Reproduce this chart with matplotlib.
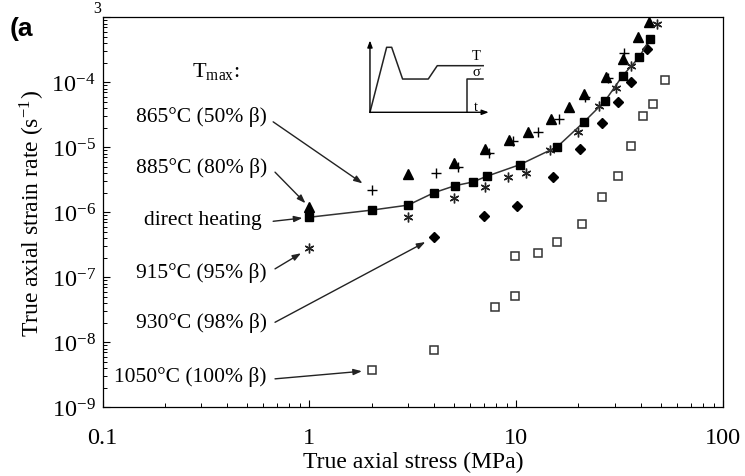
import matplotlib
matplotlib.use("Agg")
import matplotlib.pyplot as plt
from matplotlib.ticker import LogLocator, FixedLocator, NullFormatter

plt.rcParams["font.family"] = ["Liberation Serif", "DejaVu Serif"]
plt.rcParams["mathtext.fontset"] = "stix"

# direct heating (filled squares, joined by a line)
direct_x = [1.0, 2.0, 3.0, 4.0, 5.06, 6.15, 7.2, 10.4, 15.8, 21.2, 26.8, 32.7, 39.3, 44.2]
direct_y = [8.4e-7, 1.08e-6, 1.29e-6, 2.0e-6, 2.57e-6, 2.92e-6, 3.58e-6, 5.4e-6,
            1.02e-5, 2.43e-5, 5.1e-5, 1.26e-4, 2.43e-4, 4.6e-4]
# 865 C (50% beta), plus
t865_x = [2.0, 4.1, 5.25, 7.4, 9.7, 12.8, 16.1, 21.5, 27.7, 33.3]
t865_y = [2.23e-6, 4.0e-6, 4.9e-6, 8.2e-6, 1.26e-5, 1.74e-5, 2.72e-5, 5.9e-5, 1.15e-4, 2.8e-4]
# 885 C (80% beta), triangles
t885_x = [1.0, 3.0, 5.0, 7.1, 9.25, 11.4, 14.8, 18.0, 21.3, 27.3, 32.9, 38.6, 43.9]
t885_y = [1.2e-6, 3.9e-6, 5.8e-6, 9.4e-6, 1.31e-5, 1.74e-5, 2.72e-5, 4.12e-5, 6.6e-5,
          1.19e-4, 2.29e-4, 4.9e-4, 8.4e-4]
# 915 C (95% beta), asterisks
t915_x = [1.0, 3.0, 5.0, 7.06, 9.1, 11.2, 14.5, 19.8, 25.2, 30.5, 36.1, 48.0]
t915_y = [2.8e-7, 8.4e-7, 1.64e-6, 2.43e-6, 3.45e-6, 4.03e-6, 9.1e-6, 1.7e-5, 4.28e-5,
          8.1e-5, 1.8e-4, 7.9e-4]
# 930 C (98% beta), diamonds
t930_x = [4.0, 7.0, 10.1, 15.1, 20.3, 26.0, 31.1, 36.1, 42.9]
t930_y = [4.1e-7, 8.7e-7, 1.27e-6, 3.45e-6, 9.4e-6, 2.37e-5, 4.9e-5, 1.0e-4, 3.25e-4]
# 1050 C (100% beta), open squares
t1050_x = [2.0, 4.0, 7.9, 9.9, 9.9, 12.8, 15.8, 20.9, 26.1, 31.2, 36.1, 41.1, 45.9, 52.3]
t1050_y = [3.7e-9, 7.6e-9, 3.5e-8, 5.15e-8, 2.13e-7, 2.37e-7, 3.45e-7, 6.6e-7, 1.7e-6,
           3.6e-6, 1.06e-5, 3.06e-5, 4.6e-5, 1.1e-4]

x_ticks = [0.1, 1, 10, 100]
x_ticklabels = ["0.1", "1", "10", "100"]
y_ticks = [1e-9, 1e-8, 1e-7, 1e-6, 1e-5, 1e-4, 1e-3]
y_ticklabels = [r"$\mathregular{10^{-%d}}$" % n for n in (9, 8, 7, 6, 5, 4)] + [""]

labels = ["865°C (50% β)", "885°C (80% β)", "direct heating",
          "915°C (95% β)", "930°C (98% β)", "1050°C (100% β)"]

# schematic thermal/stress history for the inset
inset_T_t = [0.0, 0.139, 0.181, 0.272, 0.486, 0.561, 0.944]
inset_T_v = [0.0, 0.887, 0.887, 0.454, 0.454, 0.636, 0.636]
inset_s_t = [0.811, 0.811, 0.944]
inset_s_v = [0.0, 0.454, 0.454]

fig = plt.figure(figsize=(7.45, 4.77), dpi=100)
ax = fig.add_axes([0.1376, 0.144, 0.8329, 0.8176])
ax.set_xscale("log")
ax.set_yscale("log")
ax.set_xlim(0.1, 100)
ax.set_ylim(1e-9, 1e-3)

ax.plot(direct_x, direct_y, color="#333333", lw=1.1, marker="s", ms=5.5,
        mfc="black", mec="black", zorder=3)
ax.plot(t865_x, t865_y, ls="none", marker="+", ms=7, mew=1.0, color="black")
ax.plot(t885_x, t885_y, ls="none", marker="^", ms=7, color="black")
ax.plot(t915_x, t915_y, ls="none", marker=(6, 2, 0), ms=7, mew=1.0, color="#222222")
ax.plot(t930_x, t930_y, ls="none", marker="D", ms=5, color="black")
ax.plot(t1050_x, t1050_y, ls="none", marker="s", ms=5.5, mfc="white", mec="#333333", mew=1.1)

ax.xaxis.set_major_locator(FixedLocator(x_ticks))
ax.set_xticklabels(x_ticklabels)
ax.xaxis.set_minor_locator(LogLocator(base=10, subs=range(2, 10)))
ax.xaxis.set_minor_formatter(NullFormatter())
ax.yaxis.set_major_locator(FixedLocator(y_ticks))
ax.set_yticklabels(y_ticklabels)
ax.yaxis.set_minor_locator(LogLocator(base=10, subs=range(2, 10), numticks=20))
ax.yaxis.set_minor_formatter(NullFormatter())
ax.tick_params(which="both", direction="in", top=False, right=False)
ax.tick_params(axis="y", labelsize=17.5, pad=5)
ax.tick_params(axis="x", labelsize=17.5, pad=14)
ax.tick_params(which="major", length=5, width=0.8)
ax.tick_params(which="minor", length=3, width=0.7)
for s in ax.spines.values():
    s.set_linewidth(0.9)

ax.set_xlabel("True axial stress (MPa)", fontsize=17, labelpad=2)
ax.set_ylabel(r"True axial strain rate (s$^{\mathregular{-1}}$)", fontsize=17, labelpad=3)

# labels with arrows pointing at the first point of each series
ax.text(0.183, 0.863, r"T$_{\mathregular{max}}$:", transform=ax.transAxes,
        fontsize=16, ha="center", va="center")
text_y = [0.747, 0.615, 0.482, 0.346, 0.218, 0.081]
text_x = [0.265, 0.265, 0.257, 0.265, 0.265, 0.265]
arrow_start = [(0.275, 0.732), (0.278, 0.603), (0.275, 0.477),
               (0.278, 0.355), (0.278, 0.218), (0.278, 0.073)]
targets = [(t865_x[0], t865_y[0]), (t885_x[0], t885_y[0]), (direct_x[0], direct_y[0]),
           (t915_x[0], t915_y[0]), (t930_x[0], t930_y[0]), (t1050_x[0], t1050_y[0])]
shrink = [8, 4, 5, 7, 7, 7]
for lab, tx, ty, st, tg, sh in zip(labels, text_x, text_y, arrow_start, targets, shrink):
    ax.text(tx, ty, lab, transform=ax.transAxes, fontsize=15.5, ha="right", va="center")
    ax.annotate("", xy=tg, xycoords="data", xytext=st, textcoords="axes fraction",
                arrowprops=dict(arrowstyle="-|>,head_length=0.5,head_width=0.18",
                                color="#222222", lw=1.0, shrinkA=0, shrinkB=sh))

# inset sketch
ins = fig.add_axes([0.4966, 0.7625, 0.161, 0.1536])
ins.set_xlim(0, 1)
ins.set_ylim(0, 1)
ins.axis("off")
ins.annotate("", xy=(0, 0.98), xytext=(0, 0),
             arrowprops=dict(arrowstyle="-|>,head_length=0.4,head_width=0.15", lw=1.0, color="black",
                             shrinkA=0, shrinkB=0))
ins.annotate("", xy=(0.99, 0), xytext=(0, 0),
             arrowprops=dict(arrowstyle="-|>,head_length=0.4,head_width=0.15", lw=1.0, color="black",
                             shrinkA=0, shrinkB=0))
ins.plot(inset_T_t, inset_T_v, color="#222222", lw=1.1, clip_on=False)
ins.plot(inset_s_t, inset_s_v, color="#222222", lw=1.1, clip_on=False)
ins.text(0.883, 0.78, "T", fontsize=10.5, ha="center", va="center")
ins.text(0.883, 0.56, "σ", fontsize=10.5, ha="center", va="center")
ins.text(0.883, 0.08, "t", fontsize=10.5, ha="center", va="center")

fig.text(0.013, 0.94, "(a", fontsize=19, fontweight="bold", family="Liberation Sans",
         ha="left", va="center")
fig.text(0.131, 0.982, "3", fontsize=11.5, ha="center", va="center")

fig.savefig("out.png", dpi=100)
